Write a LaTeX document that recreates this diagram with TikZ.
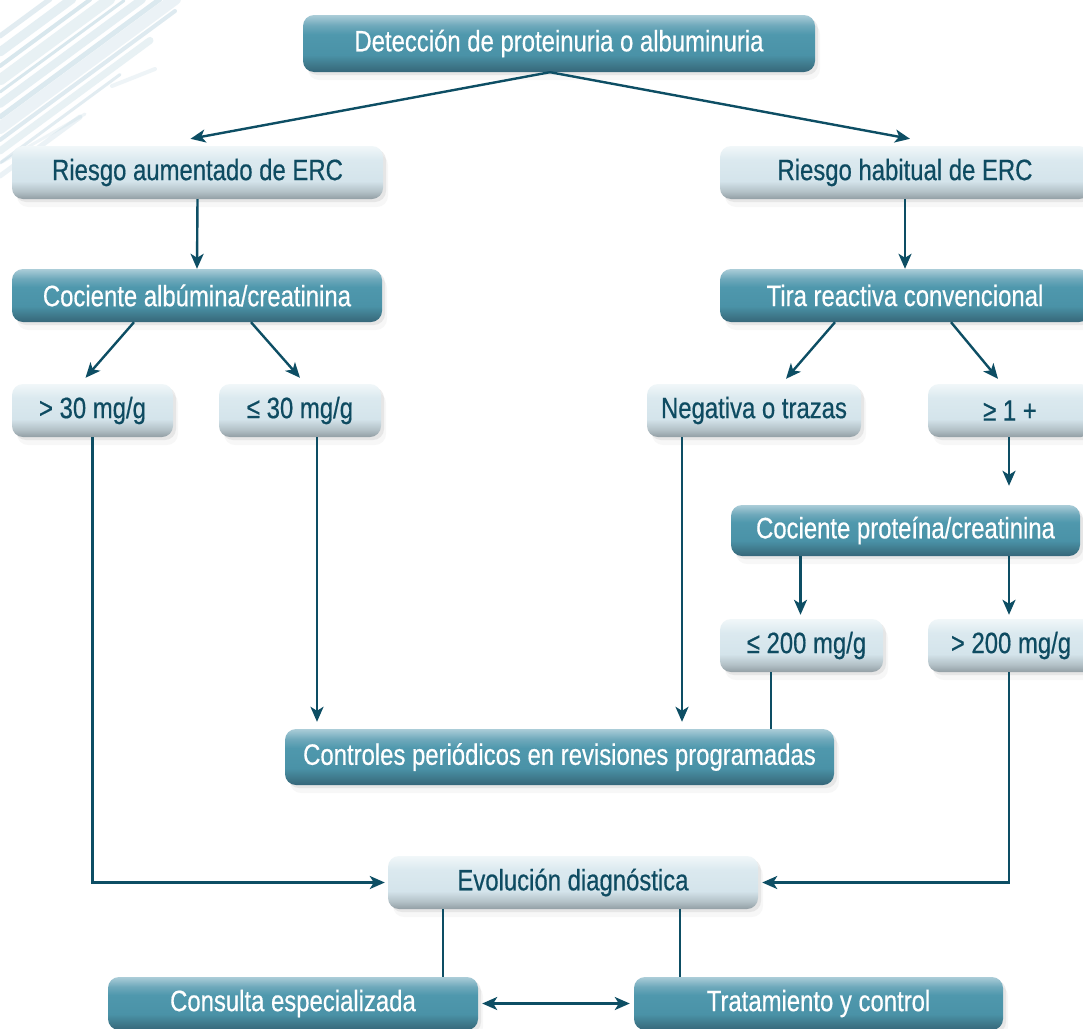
\documentclass[tikz,border=0pt]{standalone}
\usepackage{fontspec}
\setmainfont[FakeStretch=0.81, FakeBold=0.5]{Liberation Sans}
\usetikzlibrary{arrows.meta,shadows,calc}

\definecolor{ink}{HTML}{0D4E64}
\definecolor{paletext}{HTML}{0E4B61}
\definecolor{brush}{HTML}{BFD7E2}
% teal box colours (bottom to top)
\definecolor{tA}{HTML}{35667A}
\definecolor{tB}{HTML}{3D7587}
\definecolor{tC}{HTML}{4A92A7}
\definecolor{tM}{HTML}{4F98AD}
\definecolor{tD}{HTML}{6FA9BB}
\definecolor{tE}{HTML}{ABCDD8}
% pale box colours (bottom to top)
\definecolor{pA}{HTML}{929EA4}
\definecolor{pB}{HTML}{B3C1C7}
\definecolor{pC}{HTML}{D4E4EB}
\definecolor{pM}{HTML}{DBE9EF}
\definecolor{pD}{HTML}{F1F7F9}

\pgfdeclareverticalshading{tealfill}{100bp}{color(0bp)=(tA); color(25bp)=(tA); color(30bp)=(tB); color(40bp)=(tC); color(58bp)=(tM); color(66bp)=(tD); color(75bp)=(tE); color(100bp)=(tE)}
\pgfdeclareverticalshading{palefill}{100bp}{color(0bp)=(pA); color(25bp)=(pA); color(32bp)=(pB); color(42bp)=(pC); color(62bp)=(pM); color(75bp)=(pD); color(100bp)=(pD)}

\tikzset{
  box/.style={rectangle, rounded corners=11pt, minimum height=53pt, inner sep=0pt,
    font=\fontsize{29.5pt}{34pt}\selectfont,
    drop shadow={shadow xshift=3pt, shadow yshift=-3pt, opacity=.14},
    drop shadow={shadow xshift=5pt, shadow yshift=-8pt, opacity=.06}},
  tealbox/.style={box, shading=tealfill, text=white},
  palebox/.style={box, shading=palefill, text=paletext},
  tip/.tip={Stealth[length=15pt, width=13pt, inset=4pt]},
  arr/.style={draw=ink, line width=2.4pt, -tip},
  link/.style={draw=ink, line width=2.2pt},
  stroke/.style={draw=brush, line cap=round},
}

\begin{document}
\begin{tikzpicture}[x=1pt, y=-1pt]
\useasboundingbox (0,0) rectangle (1083,1028);
\clip (0,0) rectangle (1083,1028);
\fill[white] (0,0) rectangle (1083,1028);

% brush strokes in the upper left corner
\foreach \y/\dx/\w/\o in {36/50/5/.45, 52/72/9/.4, 66/90/4/.6, 80/110/11/.35, 92/124/3/.6,
    104/142/8/.4, 117/160/5/.55, 128/175/12/.3, 140/175/4/.5, 151/150/7/.35,
    163/120/3/.45, 176/80/5/.3}
  \draw[stroke, line width=\w pt, opacity=\o] (0,\y) -- ++(\dx,-0.737*\dx);
\draw[stroke, line width=4pt, opacity=.25] (112,86) -- (155,69);
\draw[stroke, line width=3pt, opacity=.25] (2,162) -- (85,114);

% nodes
\node[tealbox, minimum width=512pt, minimum height=57pt] (top) at (559,43.5) {Detección de proteinuria o albuminuria};
\node[palebox, minimum width=371pt] (ra) at (197.5,172.5) {Riesgo aumentado de ERC};
\node[palebox, minimum width=370pt] (rh) at (905,172.5) {Riesgo habitual de ERC};
\node[tealbox, minimum width=370pt] (ca) at (197,295.5) {Cociente albúmina/creatinina};
\node[tealbox, minimum width=370pt] (tr) at (905,295.5) {Tira reactiva convencional};
\node[palebox, minimum width=161pt] (g30) at (92.5,410.5) {> 30 mg/g};
\node[palebox, minimum width=162pt] (l30) at (300,410.5) {≤ 30 mg/g};
\node[palebox, minimum width=214pt] (neg) at (754,410.5) {Negativa o trazas};
\node[palebox, minimum width=164pt] (ge1) at (1010,410.5) {≥ 1 +};
\node[tealbox, minimum width=349pt, minimum height=51pt] (cp) at (905.5,530.5) {Cociente proteína/creatinina};
\node[palebox, minimum width=163pt] (l200) at (801.5,645.5) {\hspace*{10pt}≤ 200 mg/g};
\node[palebox, minimum width=166pt] (g200) at (1011,645.5) {> 200 mg/g};
\node[tealbox, minimum width=549pt, minimum height=56pt] (ctl) at (559.5,757) {Controles periódicos en revisiones programadas};
\node[palebox, minimum width=370pt] (evo) at (573,882.5) {Evolución diagnóstica};
\node[tealbox, minimum width=370pt] (con) at (293,1003.5) {Consulta especializada};
\node[tealbox, minimum width=369pt] (tra) at (818.5,1003.5) {Tratamiento y control};

% connectors
\draw[arr] ($(top.south)+(-9,0)$) -- ($(ra.north)+(-7,-7)$);
\draw[arr] ($(top.south)+(-9,0)$) -- ($(rh.north)+(5,-7)$);
\draw[arr] (ra.south) -- (ca.north);
\draw[arr] (rh.south) -- (tr.north);
\draw[arr] ($(ca.south)+(-63,0)$) -- ($(g30.north)+(-7,-6)$);
\draw[arr] ($(ca.south)+(54,0)$) -- ($(l30.north)+(0,-6)$);
\draw[arr] ($(tr.south)+(-70,0)$) -- ($(neg.north)+(32,-5)$);
\draw[arr] ($(tr.south)+(46,0)$) -- ($(ge1.north)+(-12,-5)$);
\draw[arr] ($(ge1.south)+(-1,0)$) -- ($(ge1.south |- cp.north)+(-1,-19)$);
\draw[arr] ($(cp.south -| l200.north)+(-1,0)$) -- ($(l200.north)+(-1,-4)$);
\draw[arr] ($(cp.south -| g200.north)+(-2,0)$) -- ($(g200.north)+(-2,-4)$);
\draw[arr] (g30.south) |- ($(evo.west)+(-3,0)$);
\draw[arr] ($(g200.south)+(-2,0)$) |- ($(evo.east)+(4,0)$);
\draw[arr] ($(l30.south)+(17,0)$) -- ($(l30.south |- ctl.north)+(17,-7)$);
\draw[arr] ($(neg.south)+(-72,0)$) -- ($(neg.south |- ctl.north)+(-72,-7)$);
\draw[link] ($(l200.south)+(-30.5,0)$) -- ($(l200.south |- ctl.north)+(-30.5,0)$);
\draw[link] ($(evo.south)+(-130,0)$) -- ($(evo.south |- con.north)+(-130,0)$);
\draw[link] ($(evo.south)+(107,0)$) -- ($(evo.south |- tra.north)+(107,0)$);
\draw[arr, tip-tip] ($(con.east)+(4,0)$) -- ($(tra.west)+(-4,0)$);
\end{tikzpicture}
\end{document}
